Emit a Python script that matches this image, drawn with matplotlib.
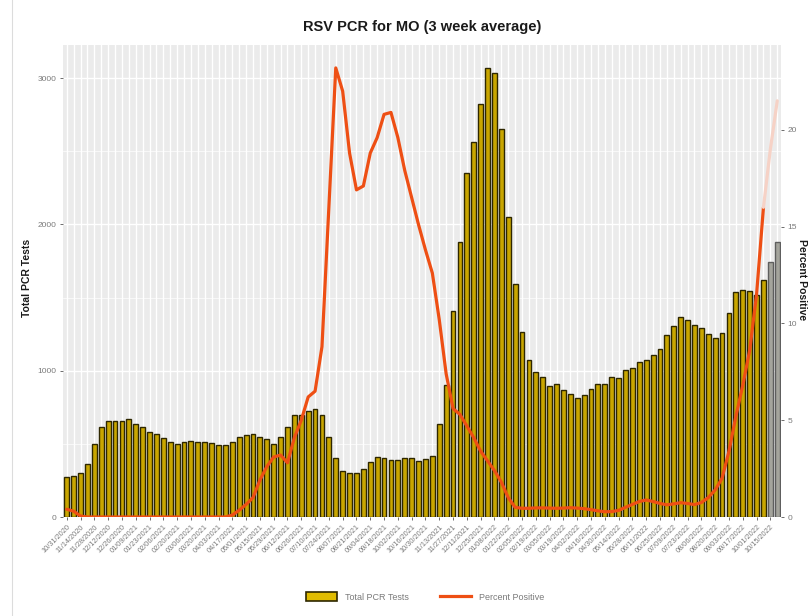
import matplotlib
matplotlib.use("Agg")
import matplotlib.pyplot as plt
from matplotlib.patches import Patch
from matplotlib.lines import Line2D
import numpy as np

plt.rcParams['font.family'] = ['Liberation Sans', 'DejaVu Sans']

# ---- data (weekly, starting 10/31/2020) ----
total_tests = [275, 280, 299, 362, 501, 617, 658, 658, 653, 668,
               638, 617, 579, 570, 538, 513, 499, 510, 519, 515,
               515, 503, 494, 492, 510, 545, 558, 565, 547, 533,
               501, 547, 613, 695, 700, 727, 738, 697, 545, 401,
               312, 303, 303, 328, 376, 410, 401, 390, 388, 401,
               403, 386, 394, 417, 636, 904, 1408, 1882, 2354, 2563,
               2821, 3067, 3033, 2650, 2053, 1593, 1262, 1073, 989, 957,
               895, 911, 866, 841, 813, 834, 873, 911, 911, 957,
               950, 1005, 1016, 1062, 1073, 1105, 1146, 1244, 1308, 1365,
               1347, 1312, 1290, 1251, 1226, 1260, 1394, 1540, 1549, 1547,
               1520, 1620, 1740, 1880]

percent_positive = [0.4, 0.3, 0.05, 0, 0, 0, 0, 0, 0, 0,
                    0, 0, 0, 0, 0, 0, 0, 0, 0, 0,
                    0, 0, 0, 0, 0.1, 0.35, 0.65, 1.0, 1.9, 2.6,
                    3.1, 3.2, 2.8, 4.1, 5.0, 6.2, 6.5, 8.8, 16.0, 23.2,
                    22.0, 18.8, 16.9, 17.1, 18.8, 19.6, 20.8, 20.9, 19.6, 17.9,
                    16.5, 15.1, 13.8, 12.6, 10.2, 7.4, 5.6, 5.3, 4.7, 4.1,
                    3.4, 2.9, 2.4, 1.8, 1.0, 0.5, 0.45, 0.45, 0.47, 0.47,
                    0.46, 0.45, 0.46, 0.48, 0.46, 0.43, 0.38, 0.32, 0.27, 0.28,
                    0.34, 0.5, 0.65, 0.8, 0.88, 0.8, 0.7, 0.63, 0.68, 0.74,
                    0.7, 0.64, 0.75, 1.0, 1.4, 2.0, 3.4, 5.2, 6.8, 8.6,
                    11.5, 16.0, 19.0, 21.5]

n_complete = 102  # weeks with complete data (the last ones are shown faded)

tick_labels = ["10/31/2020", "11/14/2020", "11/28/2020", "12/12/2020", "12/26/2020",
               "01/09/2021", "01/23/2021", "02/06/2021", "02/20/2021", "03/06/2021",
               "03/20/2021", "04/03/2021", "04/17/2021", "05/01/2021", "05/15/2021",
               "05/29/2021", "06/12/2021", "06/26/2021", "07/10/2021", "07/24/2021",
               "08/07/2021", "08/21/2021", "09/04/2021", "09/18/2021", "10/02/2021",
               "10/16/2021", "10/30/2021", "11/13/2021", "11/27/2021", "12/11/2021",
               "12/25/2021", "01/08/2022", "01/22/2022", "02/05/2022", "02/19/2022",
               "03/05/2022", "03/19/2022", "04/02/2022", "04/16/2022", "04/30/2022",
               "05/14/2022", "05/28/2022", "06/11/2022", "06/25/2022", "07/09/2022",
               "07/23/2022", "08/06/2022", "08/20/2022", "09/03/2022", "09/17/2022",
               "10/01/2022", "10/15/2022"]

left_ticks = [0, 1000, 2000, 3000]
right_ticks = [0, 5, 10, 15, 20]

# ---- figure ----
W, H = 809, 616
fig = plt.figure(figsize=(W / 100, H / 100), dpi=100)
px_l, px_r, px_t, px_b = 62.6, 781.4, 45, 517
ax = fig.add_axes([px_l / W, 1 - px_b / H, (px_r - px_l) / W, (px_b - px_t) / H])

n = len(total_tests)
x = np.arange(n)
scale = 132.3  # tests per percent point

ax.set_facecolor('#ebebeb')
for s in ax.spines.values():
    s.set_visible(False)

ymax = 3226
ax.set_ylim(0, ymax)
ax.set_xlim(-0.6, n - 1 + 0.6)

# grid
for v in [500, 1500, 2500]:
    ax.axhline(v, color='white', lw=0.5, zorder=0)
for v in left_ticks:
    ax.axhline(v, color='white', lw=1.0, zorder=0)
for xi in x:
    ax.axvline(xi, color='white', lw=1.0, zorder=0)

gold = '#c9a600'
edge = '#2e2700'
colors = [gold if i < n_complete else '#a4a49c' for i in x]
edges = [edge if i < n_complete else '#5e5e5e' for i in x]
ax.bar(x, total_tests, width=0.7, color=colors, edgecolor=edges, linewidth=1.0, zorder=2)

ax2 = ax.twinx()
ax2.set_ylim(0, ymax / scale)
ax2.set_xlim(ax.get_xlim())
for s in ax2.spines.values():
    s.set_visible(False)
pp = np.array(percent_positive)
ax2.plot(x[:n_complete], pp[:n_complete], color='#ee4f14', lw=2.3,
         solid_joinstyle='round', solid_capstyle='round', zorder=3)
ax2.plot(x[n_complete - 1:], pp[n_complete - 1:], color='#f6d2c6', lw=2.3,
         solid_joinstyle='round', solid_capstyle='round', zorder=3)

# ticks
tick_pos = x[::2][:len(tick_labels)]
ax.set_xticks(tick_pos)
ax.set_xticklabels(tick_labels, rotation=45, ha='right', rotation_mode='anchor',
                   fontsize=5.3, color='#7a7a7a')
ax.set_yticks(left_ticks)
ax.set_yticklabels([str(v) for v in left_ticks], fontsize=6, color='#7a7a7a')
ax2.set_yticks(right_ticks)
ax2.set_yticklabels([str(v) for v in right_ticks], fontsize=6, color='#7a7a7a')
ax.tick_params(axis='both', length=2.5, width=0.6, color='#555555', pad=2)
ax2.tick_params(axis='y', length=2.5, width=0.6, color='#555555', pad=2)

# titles
fig.text(422 / W, 1 - 27 / H, 'RSV PCR for MO (3 week average)', ha='center', va='center',
         fontsize=10.5, fontweight='bold', color='#1a1a1a')
fig.text(27 / W, 1 - 278 / H, 'Total PCR Tests', rotation=90, ha='center', va='center',
         fontsize=7.5, fontweight='bold', color='#1a1a1a')
fig.text(802 / W, 1 - 280 / H, 'Percent Positive', rotation=270, ha='center', va='center',
         fontsize=7.5, fontweight='bold', color='#1a1a1a')

# legend
handles = [Patch(facecolor='#e0bc00', edgecolor=edge, linewidth=1.2),
           Line2D([0], [0], color='#ee4f14', lw=2.3)]
fig.legend(handles, ['Total PCR Tests', 'Percent Positive'], loc='center',
           bbox_to_anchor=(425 / W, 1 - 597 / H), ncol=2, frameon=False,
           fontsize=6.5, handlelength=3.4, handleheight=1.0, handletextpad=0.9,
           columnspacing=3.5, labelcolor='#7a7a7a')

# light frame line at left
fig.add_artist(Line2D([11.5 / W, 11.5 / W], [0, 1], color='#dcdcdc', lw=0.8))

fig.savefig('out.png', dpi=100)
